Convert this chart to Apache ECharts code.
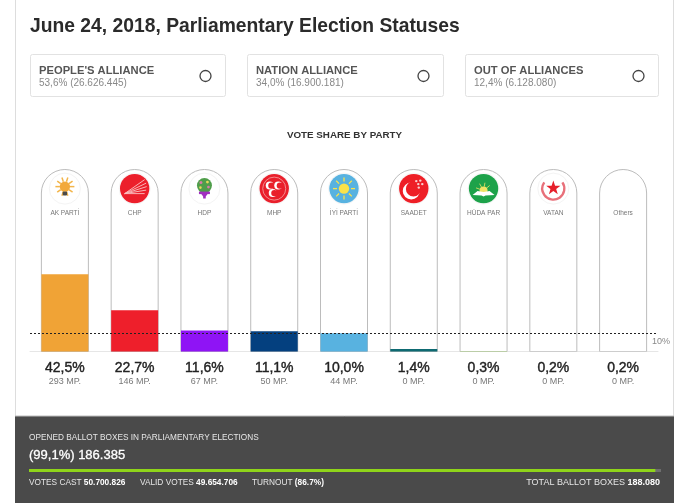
<!DOCTYPE html>
<html><head><meta charset="utf-8">
<style>html,body{margin:0;padding:0;background:#fff}#c{width:685px;height:503px}</style>
<script src="https://cdn.jsdelivr.net/npm/echarts@6/dist/echarts.min.js"></script>
</head><body><div id="c"></div>
<script>
const parties = ['AK PARTİ','CHP','HDP','MHP','İYİ PARTİ','SAADET','HÜDA PAR','VATAN','Others'];
const shares = [42.5,22.7,11.6,11.1,10.0,1.4,0.3,0.2,0.2];
const seats = [293,146,67,50,44,0,0,0,0];
const colors = ['#f0a336','#ee1f2b','#8f14f5','#04407f','#58b2e0','#0e6a72','#b9dd92','#ffffff','#ffffff'];
const iconKinds = ['akp','chp','hdp','mhp','iyi','saadet','huda','vatan','none'];
const allianceNames = ["PEOPLE'S ALLIANCE",'NATION ALLIANCE','OUT OF ALLIANCES'];
const allianceShares = ['53,6%','34,0%','12,4%'];
const allianceVotes = ['26.626.445','16.900.181','6.128.080'];
const threshold = 10;
const openedPct = 99.1;
const FONT = '"Liberation Sans", Arial, sans-serif';

function star(cx,cy,R,r){const p=[];for(let i=0;i<10;i++){const a=-Math.PI/2+i*Math.PI/5,q=i%2?r:R;p.push([cx+q*Math.cos(a),cy+q*Math.sin(a)]);}return p;}
function circ(cx,cy,r,fill,stroke,lw){return {type:'circle',shape:{cx,cy,r},style:{fill:fill||'none',stroke:stroke||null,lineWidth:lw||1}};}
function seg(x1,y1,x2,y2,c,w){return {type:'line',shape:{x1,y1,x2,y2},style:{stroke:c,lineWidth:w||1}};}
function rays(cx,cy,r1,r2,n,c,w){const o=[];for(let i=0;i<n;i++){const a=i*2*Math.PI/n;o.push(seg(cx+r1*Math.cos(a),cy+r1*Math.sin(a),cx+r2*Math.cos(a),cy+r2*Math.sin(a),c,w));}return o;}
function crescent(cx,cy,r,dx,r2,c,bg){return [circ(cx,cy,r,c),circ(cx+dx,cy,r2,bg)];}

function iconParts(k){
  const halo=circ(0,0,15.5,'#fff','#f4f4f4',1);
  switch(k){
    case 'akp': return [halo,...rays(0,-2,5,9.5,10,'#f3b54a',1.5),circ(0,-2,5.2,'#f2a93b'),
      {type:'rect',shape:{x:-2.2,y:3,width:4.4,height:4,r:1},style:{fill:'#4a4a4a'}}];
    case 'chp': { const o=[halo,circ(0,0,14.7,'#ec1f2b')];
      [[10,-9],[11.5,-5.5],[12,-2],[11.5,1.5],[10,5]].forEach(e=>o.push(seg(-10,5,e[0],e[1],'#f9c4c4',0.9)));
      return o; }
    case 'hdp': return [halo,circ(0,-3,7.5,'#4f9e4a'),circ(-3.5,-6,1.5,'#d77aa6'),circ(3,-6.5,1.4,'#e5d85a'),circ(4,-1.5,1.4,'#d77aa6'),circ(-4,-1,1.3,'#e5d85a'),
      {type:'rect',shape:{x:-5.5,y:3,width:11,height:2.5},style:{fill:'#a02fc0'}},
      {type:'polygon',shape:{points:[[-3.5,5],[3.5,5],[1.3,8],[1.3,10],[-1.3,10],[-1.3,8]]},style:{fill:'#a02fc0'}}];
    case 'mhp': return [halo,circ(0,0,14.7,'#e91f2b'),circ(0,0,11.5,'none','#f5a5a5',0.8),
      ...crescent(-4.5,-3,4,1.7,3.2,'#fff','#e91f2b'),...crescent(4,-3,4,1.7,3.2,'#fff','#e91f2b'),...crescent(-1.5,4.5,4,1.7,3.2,'#fff','#e91f2b')];
    case 'iyi': return [halo,circ(0,0,14.7,'#58b2e0'),...rays(0,0,7,11,8,'#fbe24a',1.3),circ(0,0,5.2,'#fbe24a')];
    case 'saadet': return [halo,circ(0,0,14.7,'#ee1f26'),circ(-2.5,2.5,8.5,'#fff'),circ(-0.3,0.3,7.6,'#ee1f26'),
      circ(2.5,-7.5,1.2,'#f8d0d0'),circ(6.5,-8,1.2,'#f8d0d0'),circ(4.5,-4.5,1.2,'#f8d0d0'),circ(8.5,-4.5,1.2,'#f8d0d0'),circ(5,-1,1.2,'#f8d0d0')];
    case 'huda': return [halo,circ(0,0,14.7,'#1da24a'),...rays(0,2,4,8,9,'#f0e365',0.8).slice(5),circ(0,2,4,'#f0e365'),
      {type:'polygon',shape:{points:[[-11,6.5],[-6,2.5],[0,3.5],[6,2.5],[11,6.5],[2,7],[0,8],[-2,7]]},style:{fill:'#fff'}}];
    case 'vatan': return [halo,{type:'arc',shape:{cx:0,cy:0,r:11,startAngle:-0.6,endAngle:Math.PI+0.6,clockwise:true},style:{stroke:'#e8707a',lineWidth:2.4,fill:null}},
      {type:'polygon',shape:{points:star(0,-0.5,7.5,3)},style:{fill:'#e6202b'}}];
    default: return [];
  }
}
const iconRow = parties.map((p,i)=>[i,89.5,iconKinds[i]]);

const small = {n:{fill:'#e6e6e6',font:'8.3px '+FONT},b:{fill:'#fff',font:'bold 8.3px '+FONT}};
const smallR = {n:{fill:'#e6e6e6',font:'9px '+FONT},b:{fill:'#fff',font:'bold 9px '+FONT}};
const gfx = [
  {type:'rect',z:-2,shape:{x:15.5,y:-2,width:658,height:510},style:{fill:'#fff',stroke:'#dddddd',lineWidth:1}},
  {type:'rect',z:-1,shape:{x:15,y:416,width:659,height:87},style:{fill:'#4a4a4a'}},
  {type:'line',z:-1,shape:{x1:15,y1:416,x2:674,y2:416},style:{stroke:'#bdbdbd',lineWidth:1}},
  {type:'text',z:5,x:29,y:437.5,style:{text:'OPENED BALLOT BOXES IN PARLIAMENTARY ELECTIONS',fill:'#e6e6e6',font:'8.25px '+FONT,verticalAlign:'middle'}},
  {type:'text',z:5,x:29,y:455,style:{text:'(99,1%) 186.385',fill:'#fff',stroke:'#fff',lineWidth:0.3,font:'13px '+FONT,verticalAlign:'middle'}},
  {type:'text',z:5,x:29,y:483,style:{text:'{n|VOTES CAST }{b|50.700.826}',verticalAlign:'middle',rich:small}},
  {type:'text',z:5,x:140,y:483,style:{text:'{n|VALID VOTES }{b|49.654.706}',verticalAlign:'middle',rich:small}},
  {type:'text',z:5,x:252,y:483,style:{text:'{n|TURNOUT }{b|(86.7%)}',verticalAlign:'middle',rich:small}},
  {type:'text',z:5,x:660,y:483,style:{text:'{n|TOTAL BALLOT BOXES }{b|188.080}',align:'right',verticalAlign:'middle',rich:smallR}}
];
const cardX=[30,247,465], cardW=[195,196,193];
allianceNames.forEach((n,i)=>{
  const x=cardX[i];
  gfx.push({type:'rect',shape:{x:x+.5,y:54.5,width:cardW[i],height:42,r:2},style:{fill:'#fff',stroke:'#e2e2e2',lineWidth:1}});
  gfx.push({type:'text',x:x+9,y:71,style:{text:n,fill:'#555',font:'bold 11.2px '+FONT,verticalAlign:'middle'}});
  gfx.push({type:'text',x:x+9,y:83,style:{text:allianceShares[i]+' ('+allianceVotes[i]+')',fill:'#888',font:'10px '+FONT,verticalAlign:'middle'}});
  gfx.push({type:'circle',shape:{cx:x+cardW[i]-19.5,cy:76,r:5.5},style:{fill:'none',stroke:'#444',lineWidth:1.3}});
});

const chart = echarts.init(document.getElementById('c'),null,{renderer:'canvas'});
chart.setOption({
  animation:false,
  backgroundColor:'#fff',
  title:[
    {text:'June 24, 2018, Parliamentary Election Statuses',left:25,top:12,textStyle:{fontFamily:FONT,fontSize:19.3,fontWeight:'bold',color:'#2b2b2b'}},
    {text:'VOTE SHARE BY PARTY',left:339.5,top:125.5,textAlign:'center',textStyle:{fontFamily:FONT,fontSize:9.8,fontWeight:'bold',color:'#333'}}
  ],
  graphic:{elements:gfx},
  grid:[{left:30,top:169.5,width:628,height:182},{left:29,top:469,width:632,height:3}],
  xAxis:[
    {type:'category',gridIndex:0,data:parties,axisTick:{show:false},axisLine:{lineStyle:{color:'#e6e6e6',width:1}},
     axisLabel:{interval:0,margin:9,formatter:(v,i)=>'{v|'+shares[i].toFixed(1).replace('.',',')+'%}\n{m|'+seats[i]+' MP.}',
       rich:{v:{fontFamily:FONT,fontSize:14,color:'#222',textBorderColor:'#222',textBorderWidth:0.4,lineHeight:15,align:'center'},m:{fontFamily:FONT,fontSize:9,color:'#777',lineHeight:13,align:'center'}}}},
    {type:'value',gridIndex:1,min:0,max:100,show:false}
  ],
  yAxis:[
    {type:'value',gridIndex:0,min:0,max:100,show:false},
    {type:'category',gridIndex:1,data:['opened'],show:false}
  ],
  series:[
    {type:'bar',xAxisIndex:0,yAxisIndex:0,barWidth:47,z:2,
     data:shares.map((v,i)=>({value:v,itemStyle:{color:colors[i]}})),
     showBackground:true,
     backgroundStyle:{color:'#fff',borderColor:'#bcbcbc',borderWidth:1,borderRadius:[23.5,23.5,0,0]},
     markLine:{silent:true,symbol:'none',animation:false,
       lineStyle:{color:'#222',type:[2,2],width:1},
       label:{show:true,position:'end',formatter:'10%',distance:0,offset:[-6,8],color:'#888',fontFamily:FONT,fontSize:9},
       data:[{yAxis:threshold}]}},
    {type:'custom',xAxisIndex:0,yAxisIndex:0,z:4,data:iconRow,encode:{x:0,y:1},
     renderItem:(p,api)=>{
       const c=api.coord([api.value(0),api.value(1)]);
       const k=iconKinds[p.dataIndex];
       const kids=iconParts(k);
       kids.push({type:'text',style:{x:0,y:24.5,text:parties[p.dataIndex],align:'center',verticalAlign:'middle',fill:'#777',font:'6.5px '+FONT}});
       return {type:'group',x:c[0],y:c[1],children:kids};
     }},
    {type:'bar',xAxisIndex:1,yAxisIndex:1,barWidth:3,z:5,data:[openedPct],itemStyle:{color:'#8fd41a'},
     showBackground:true,backgroundStyle:{color:'#6e6e6e'}}
  ]
});
</script></body></html>
